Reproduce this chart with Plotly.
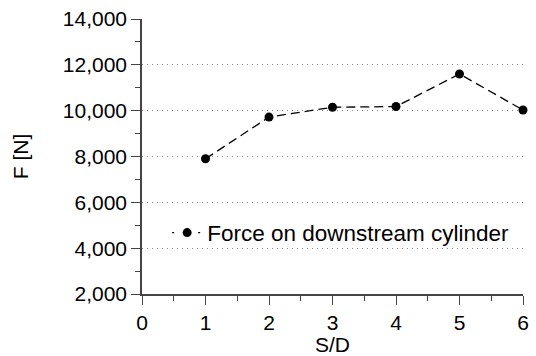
import plotly.graph_objects as go

sd = [1, 2, 3, 4, 5, 6]
force = [7900, 9720, 10150, 10180, 11600, 10030]
y_ticks = [2000, 4000, 6000, 8000, 10000, 12000, 14000]
y_labels = ["2,000", "4,000", "6,000", "8,000", "10,000", "12,000", "14,000"]
x_ticks = [0, 1, 2, 3, 4, 5, 6]
series_name = "Force on downstream cylinder"

FONT = "Liberation Sans, Arial, Helvetica, sans-serif"
FS = 21

fig = go.Figure()
fig.add_trace(go.Scatter(
    x=sd, y=force, mode="lines+markers",
    name=series_name, showlegend=False,
    line=dict(color="black", width=1.3, dash="9px,5px"),
    marker=dict(color="black", size=9),
    cliponaxis=False,
))
# legend entry (same series, legend-only styling of its dash)
fig.add_trace(go.Scatter(
    x=[None], y=[None], mode="lines+markers",
    name=series_name, showlegend=True,
    line=dict(color="black", width=1.3, dash="2px,11px"),
    marker=dict(color="black", size=9),
))

fig.update_layout(
    width=536, height=356,
    margin=dict(l=142, r=13, t=19, b=62, autoexpand=False),
    plot_bgcolor="white", paper_bgcolor="white",
    font=dict(family=FONT, size=FS, color="black"),
    showlegend=True,
    legend=dict(x=0.066, y=0.222, xanchor="left", yanchor="middle",
                bgcolor="rgba(0,0,0,0)", font=dict(size=22.5)),
    xaxis=dict(
        range=[0, 6], tickvals=x_ticks, ticktext=[str(v) for v in x_ticks],
        automargin=False,
        showgrid=False, zeroline=False,
        showline=True, linecolor="#444", linewidth=1.5,
        ticks="outside", ticklen=9, tickwidth=1.3, tickcolor="#444",
        minor=dict(dtick=0.5, ticks="outside", ticklen=5, tickwidth=1.3, tickcolor="#444", showgrid=False),
        title=dict(text="S/D", standoff=4, font=dict(size=FS)),
    ),
    yaxis=dict(
        range=[2000, 14000], tickvals=y_ticks, ticktext=y_labels,
        automargin=False,
        showgrid=True, gridcolor="#888", griddash="1px,4px", gridwidth=1,
        zeroline=False,
        showline=True, linecolor="#444", linewidth=1.5,
        ticks="outside", ticklen=9, tickwidth=1.3, tickcolor="#444",
        minor=dict(dtick=1000, ticks="outside", ticklen=5, tickwidth=1.3, tickcolor="#444", showgrid=False),
        title=dict(text="F [N]", standoff=28, font=dict(size=FS)),
    ),
)

fig.write_html("out.html", config={"displayModeBar": False},
               post_script="document.body.style.margin='0';")
